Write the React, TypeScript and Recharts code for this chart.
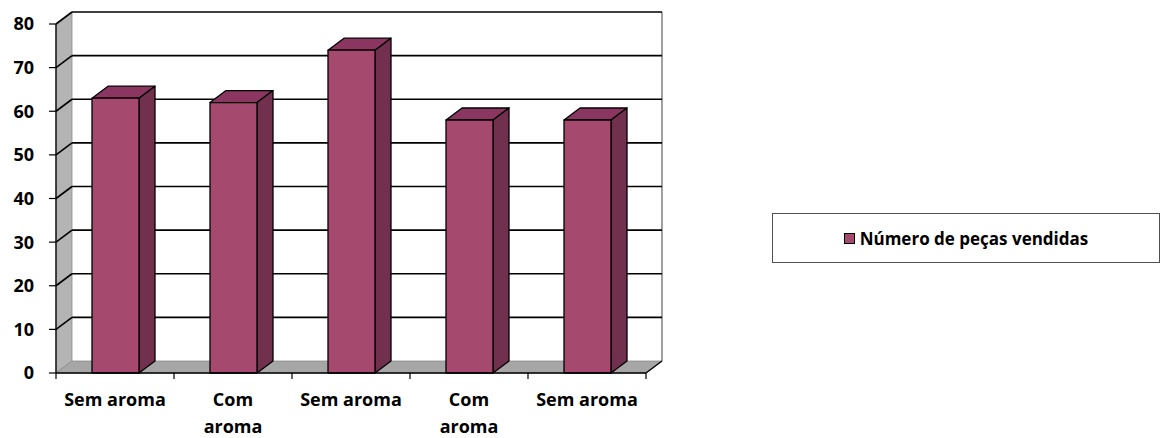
import React from 'react';
import { BarChart, Bar, XAxis, YAxis, CartesianGrid, Legend } from 'recharts';

// ---------------------------------------------------------------------------
// data
// ---------------------------------------------------------------------------
const categories = ['Sem aroma', 'Com\naroma', 'Sem aroma', 'Com\naroma', 'Sem aroma'];
const pecasVendidas = [63, 62, 74, 58, 58];
const yTicks = [0, 10, 20, 30, 40, 50, 60, 70, 80];
const seriesName = 'Número de peças vendidas';

const data = categories.map((categoria, i) => ({ categoria, vendidas: pecasVendidas[i] }));

// ---------------------------------------------------------------------------
// look
// ---------------------------------------------------------------------------
const FONT = '"Open Sans", "Liberation Sans", sans-serif';
const DX = 16; // 3d depth, to the right
const DY = 12; // 3d depth, upwards
const FRONT = '#a5496f';
const TOP = '#8a3660';
const SIDE = '#72304f';
const WALL = '#b4b4b4';
const FLOOR = '#a6a6a6';

const Bar3D = (props: any) => {
  const { x, y, width, height } = props;
  if (width == null || height == null) return null;
  const r = x + width;
  const b = y + height;
  return (
    <g stroke="#000" strokeWidth={1.3} strokeLinejoin="round">
      <polygon points={`${x},${y} ${x + DX},${y - DY} ${r + DX},${y - DY} ${r},${y}`} fill={TOP} />
      <polygon points={`${r},${y} ${r + DX},${y - DY} ${r + DX},${b - DY} ${r},${b}`} fill={SIDE} />
      <rect x={x} y={y} width={width} height={height} fill={FRONT} />
    </g>
  );
};

// walls drawn once (first grid line), using the grid's box
const wallLines = (p: any) => {
  const { x, y, width, height, index } = p;
  if (index !== 0) return <g key={`w-${index}`} />;
  const r = x + width;
  const b = y + height;
  return (
    <g key="walls">
      <rect x={x + DX} y={y - DY} width={width} height={height} fill="#fff" />
      <line x1={r + DX} y1={y - DY} x2={r + DX} y2={b - DY} stroke="#a0a0a0" strokeWidth={2} />
      <polygon points={`${x},${y} ${x + DX},${y - DY} ${x + DX},${b - DY} ${x},${b}`} fill={WALL} stroke="#8c8c8c" strokeWidth={0.8} />
      <polygon points={`${x},${b} ${x + DX},${b - DY} ${r + DX},${b - DY} ${r},${b}`} fill={FLOOR} stroke="#8c8c8c" strokeWidth={0.8} />
      <line x1={r} y1={b} x2={r + DX} y2={b - DY} stroke="#000" strokeWidth={1.3} />
    </g>
  );
};

const gridLines = (p: any) => {
  const { x, y, height, x1, x2, y1, index } = p;
  const isFloor = Math.abs(y1 - (y + height)) < 0.5;
  if (isFloor) return <g key={`g-${index}`} />;
  return (
    <g key={`g-${index}`} stroke="#000" strokeWidth={1.6}>
      <line x1={x} y1={y1} x2={x + DX} y2={y1 - DY} />
      <line x1={x1 + DX} y1={y1 - DY} x2={x2 + DX} y2={y1 - DY} />
    </g>
  );
};

const XTick = (props: any) => {
  const { x, y, payload, index, visibleTicksCount } = props;
  const half = payload && payload.offset ? payload.offset : 59;
  const lines = String(payload.value).split('\n');
  const last = index === visibleTicksCount - 1;
  return (
    <g>
      <line x1={x - half} y1={y} x2={x - half} y2={y + 6} stroke="#000" strokeWidth={1.2} />
      {last && <line x1={x + half} y1={y} x2={x + half} y2={y + 6} stroke="#000" strokeWidth={1.2} />}
      {lines.map((t, i) => (
        <text
          key={i}
          x={x}
          y={y + 33 + i * 27}
          textAnchor="middle"
          fontFamily={FONT}
          fontWeight={700}
          fontSize={18}
          fill="#000"
        >
          {t}
        </text>
      ))}
    </g>
  );
};

const LegendBox = () => (
  <div
    style={{
      boxSizing: 'border-box',
      width: 388,
      height: 50,
      border: '1px solid #505050',
      display: 'flex',
      alignItems: 'center',
      justifyContent: 'center',
      fontFamily: FONT,
      fontWeight: 700,
      fontSize: 17,
      color: '#000',
    }}
  >
    <span
      style={{
        display: 'inline-block',
        boxSizing: 'border-box',
        width: 11,
        height: 11,
        background: FRONT,
        border: '1.5px solid #000',
        marginRight: 5,
        marginTop: 1,
      }}
    />
    {seriesName}
  </div>
);

export default function App() {
  return (
    <div style={{ position: 'absolute', left: 0, top: 0, background: '#fff' }}>
      <BarChart
        width={1165}
        height={438}
        data={data}
        margin={{ top: 24, right: 519, bottom: 0, left: 0 }}
        barSize={47}
        style={{ fontFamily: FONT }}
      >
        <CartesianGrid vertical={false} horizontal={wallLines} />
        <CartesianGrid vertical={false} horizontal={gridLines} />
        <XAxis
          dataKey="categoria"
          height={65}
          interval={0}
          tickSize={0}
          tickMargin={0}
          tickLine={false}
          axisLine={{ stroke: '#000', strokeWidth: 1.3 }}
          tick={<XTick />}
        />
        <YAxis
          width={56}
          domain={[0, 80]}
          ticks={yTicks}
          interval={0}
          tickSize={7}
          tickMargin={15}
          axisLine={{ stroke: '#000', strokeWidth: 1.3 }}
          tickLine={{ stroke: '#000', strokeWidth: 1.2 }}
          tick={{ fontFamily: FONT, fontWeight: 700, fontSize: 18, fill: '#000' }}
        />
        <Legend
          layout="vertical"
          align="center"
          verticalAlign="middle"
          wrapperStyle={{ left: 772, top: 213, width: 388, height: 50 }}
          content={<LegendBox />}
        />
        <Bar dataKey="vendidas" name={seriesName} shape={Bar3D} isAnimationActive={false} />
      </BarChart>
    </div>
  );
}
